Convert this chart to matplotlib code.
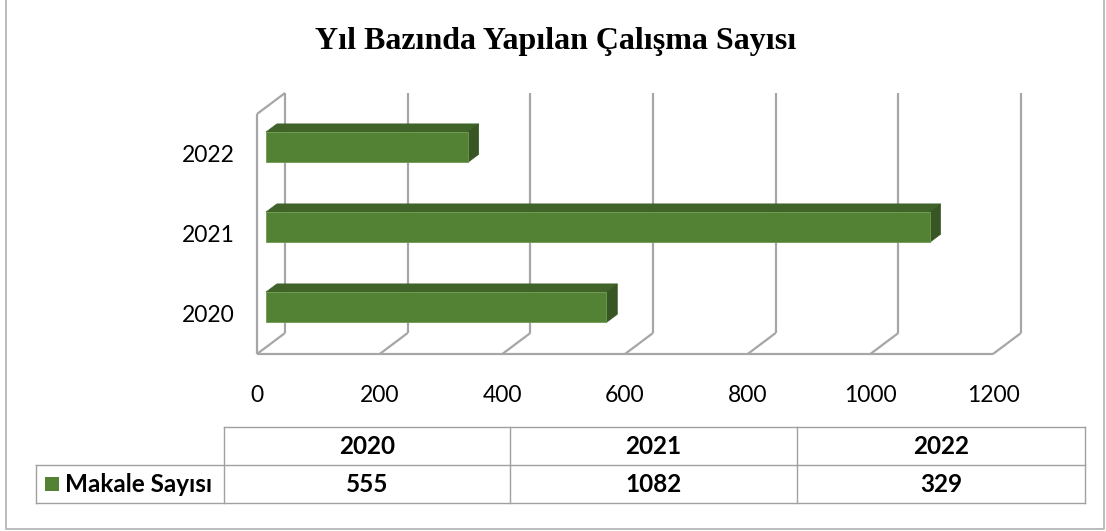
import matplotlib
matplotlib.use("Agg")
from matplotlib import pyplot as plt
from matplotlib.patches import Polygon, Rectangle

years = ["2020", "2021", "2022"]
makale = [555, 1082, 329]
series_name = "Makale Sayısı"
title = "Yıl Bazında Yapılan Çalışma Sayısı"
xticks = [0, 200, 400, 600, 800, 1000, 1200]

front = "#548235"
top = "#3f6328"
side = "#375623"
grid = "#a6a6a6"

W, H = 1106, 531
fig = plt.figure(figsize=(W / 100, H / 100), dpi=100)

# overlay in pixel coords for frame + data table
over = fig.add_axes([0, 0, 1, 1])
over.set_xlim(0, W)
over.set_ylim(H, 0)
over.axis("off")

# 3d-ish bar area, front plane
x0, x1 = 257, 993
yb, yt = 354, 114
ax = fig.add_axes([x0 / W, (H - yb) / H, (x1 - x0) / W, (yb - yt) / H])
ax.set_xlim(0, 1200)
ax.set_ylim(-0.5, 2.5)
for s in ax.spines.values():
    s.set_visible(False)

DX = 28 / (x1 - x0) * 1200   # depth in value units
DY = 21 / 80                 # depth in category units
d0, d1 = 0.32, 0.71
h = 0.19

# walls / gridlines
kw = dict(color=grid, lw=1.6, clip_on=False, zorder=1, solid_capstyle="butt")
ax.plot([0, 0], [-0.5, 2.5], **kw)
ax.plot([0, DX], [2.5, 2.5 + DY], **kw)
ax.plot([0, 1200], [-0.5, -0.5], **kw)
for t in xticks:
    ax.plot([t, t + DX], [-0.5, -0.5 + DY], **kw)
    ax.plot([t + DX, t + DX], [-0.5 + DY, 2.5 + DY], **kw)

# bars
for i, v in enumerate(makale):
    a, b = d0 * DX, d1 * DX
    ya, yb2 = d0 * DY, d1 * DY
    ax.add_patch(Polygon([(a, i + h + ya), (v + a, i + h + ya), (v + b, i + h + yb2), (b, i + h + yb2)],
                         closed=True, fc=top, ec=top, lw=0.5, clip_on=False, zorder=3))
    ax.add_patch(Polygon([(v + a, i - h + ya), (v + b, i - h + yb2), (v + b, i + h + yb2), (v + a, i + h + ya)],
                         closed=True, fc=side, ec=side, lw=0.5, clip_on=False, zorder=3))
    ax.add_patch(Rectangle((a, i - h + ya), v, 2 * h, fc=front, ec="#6f9a52", lw=0.6,
                           clip_on=False, zorder=4))

ax.set_xticks(xticks)
ax.set_xticklabels([str(t) for t in xticks])
ax.set_yticks(range(len(years)))
ax.set_yticklabels(years)
ax.tick_params(axis="x", length=0, pad=22, labelsize=16.5)
ax.tick_params(axis="y", length=0, pad=16, labelsize=16.5)
for lab in ax.get_xticklabels() + ax.get_yticklabels():
    lab.set_fontfamily("Lato")

fig.text(556 / W, 1 - 42 / H, title, ha="center", va="center",
         fontsize=23, fontweight="bold", family="Liberation Serif")

# outer frame
over.plot([6, 6, 1104, 1104], [0, 529, 529, 0], color="#b0b0b0", lw=1.2)

# data table
tc = "#a0a0a0"
cols = [224, 510, 797, 1085]
lx = 36
r0, r1, r2 = 427, 465, 503
tkw = dict(color=tc, lw=1.0)
over.plot([cols[0], cols[-1]], [r0, r0], **tkw)
over.plot([lx, cols[-1]], [r1, r1], **tkw)
over.plot([lx, cols[-1]], [r2, r2], **tkw)
over.plot([lx, lx], [r1, r2], **tkw)
for c in cols:
    over.plot([c, c], [r0, r2], **tkw)
for j, (yr, v) in enumerate(zip(years, makale)):
    cx = (cols[j] + cols[j + 1]) / 2
    over.text(cx, (r0 + r1) / 2, yr, ha="center", va="center", fontsize=17.5,
              fontweight="bold", family="Lato")
    over.text(cx, (r1 + r2) / 2, str(v), ha="center", va="center", fontsize=17.5,
              fontweight="bold", family="Lato")
over.add_patch(Rectangle((45, 477), 14, 14, fc=front, ec="none"))
over.text(65, (r1 + r2) / 2, series_name, ha="left", va="center", fontsize=17.5,
          fontweight="bold", family="Lato")

fig.savefig("out.png", dpi=100)
